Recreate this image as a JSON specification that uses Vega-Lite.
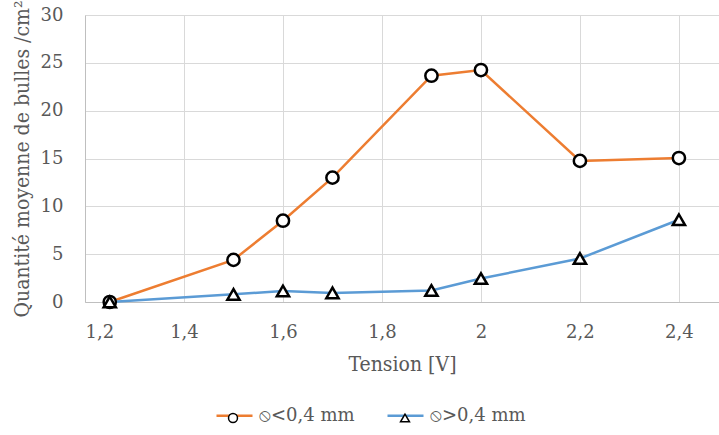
{
  "$schema": "https://vega.github.io/schema/vega-lite/v6.json",
  "width": 634,
  "height": 287,
  "autosize": {"type": "none"},
  "padding": {"left": 85, "top": 15, "right": 0, "bottom": 133},
  "background": "white",
  "config": {
    "view": {"stroke": null},
    "font": "DejaVu Serif",
    "axis": {
      "labelFont": "DejaVu Serif",
      "titleFont": "DejaVu Serif Condensed",
      "labelFontSize": 18,
      "titleFontSize": 21,
      "labelColor": "#595959",
      "titleColor": "#595959",
      "titleFontWeight": "normal",
      "gridColor": "#d9d9d9",
      "gridWidth": 1,
      "domainColor": "#bfbfbf",
      "domainWidth": 1,
      "ticks": false
    },
    "legend": {
      "labelFont": "DejaVu Serif",
      "labelFontSize": 18,
      "labelColor": "#595959"
    }
  },
  "data": {
    "values": [
      {"tension": 1.25, "quantite": 0, "serie": "⦸<0,4 mm"},
      {"tension": 1.5, "quantite": 4.4, "serie": "⦸<0,4 mm"},
      {"tension": 1.6, "quantite": 8.5, "serie": "⦸<0,4 mm"},
      {"tension": 1.7, "quantite": 13.0, "serie": "⦸<0,4 mm"},
      {"tension": 1.9, "quantite": 23.65, "serie": "⦸<0,4 mm"},
      {"tension": 2.0, "quantite": 24.25, "serie": "⦸<0,4 mm"},
      {"tension": 2.2, "quantite": 14.75, "serie": "⦸<0,4 mm"},
      {"tension": 2.4, "quantite": 15.05, "serie": "⦸<0,4 mm"},
      {"tension": 1.25, "quantite": 0, "serie": "⦸>0,4 mm"},
      {"tension": 1.5, "quantite": 0.8, "serie": "⦸>0,4 mm"},
      {"tension": 1.6, "quantite": 1.15, "serie": "⦸>0,4 mm"},
      {"tension": 1.7, "quantite": 0.95, "serie": "⦸>0,4 mm"},
      {"tension": 1.9, "quantite": 1.2, "serie": "⦸>0,4 mm"},
      {"tension": 2.0, "quantite": 2.45, "serie": "⦸>0,4 mm"},
      {"tension": 2.2, "quantite": 4.55, "serie": "⦸>0,4 mm"},
      {"tension": 2.4, "quantite": 8.6, "serie": "⦸>0,4 mm"}
    ]
  },
  "encoding": {
    "x": {
      "field": "tension",
      "type": "quantitative",
      "scale": {"domain": [1.2, 2.481], "nice": false, "zero": false},
      "axis": {
        "title": "Tension [V]",
        "values": [1.2, 1.4, 1.6, 1.8, 2.0, 2.2, 2.4],
        "labelExpr": "replace(format(datum.value, '~g'), '.', ',')",
        "labelPadding": 21,
        "titlePadding": 12
      }
    },
    "y": {
      "field": "quantite",
      "type": "quantitative",
      "scale": {"domain": [0, 30], "nice": false},
      "axis": {
        "title": "Quantité moyenne de bulles /cm²",
        "values": [0, 5, 10, 15, 20, 25, 30],
        "labelPadding": 22,
        "titlePadding": 8
      }
    }
  },
  "layer": [
    {
      "mark": {"type": "line", "strokeWidth": 2.5},
      "encoding": {
        "color": {
          "field": "serie",
          "type": "nominal",
          "scale": {"domain": ["⦸<0,4 mm", "⦸>0,4 mm"], "range": ["#ED7D31", "#5B9BD5"]},
          "legend": {
            "title": null,
            "orient": "none",
            "direction": "horizontal",
            "legendX": 130,
            "legendY": 381,
            "symbolType": "stroke",
            "symbolSize": 1296,
            "symbolStrokeWidth": 2.5,
            "labelOffset": 5,
            "columnPadding": 27
          }
        }
      }
    },
    {
      "mark": {"type": "point", "filled": true, "fill": "white", "stroke": "black", "strokeWidth": 2.5, "size": 150, "opacity": 1},
      "encoding": {
        "shape": {
          "field": "serie",
          "type": "nominal",
          "scale": {"range": ["circle", "triangle-up"]},
          "legend": {
            "title": null,
            "orient": "none",
            "direction": "horizontal",
            "legendX": 139,
            "legendY": 394,
            "symbolSize": 80,
            "labelOffset": 0,
            "labelExpr": "''",
            "columnPadding": 154,
            "encode": {
              "symbols": {
                "update": {
                  "fill": {"value": "white"},
                  "stroke": {"value": "black"},
                  "strokeWidth": {"value": 2.5},
                  "opacity": {"value": 1}
                }
              }
            }
          }
        }
      }
    }
  ]
}
